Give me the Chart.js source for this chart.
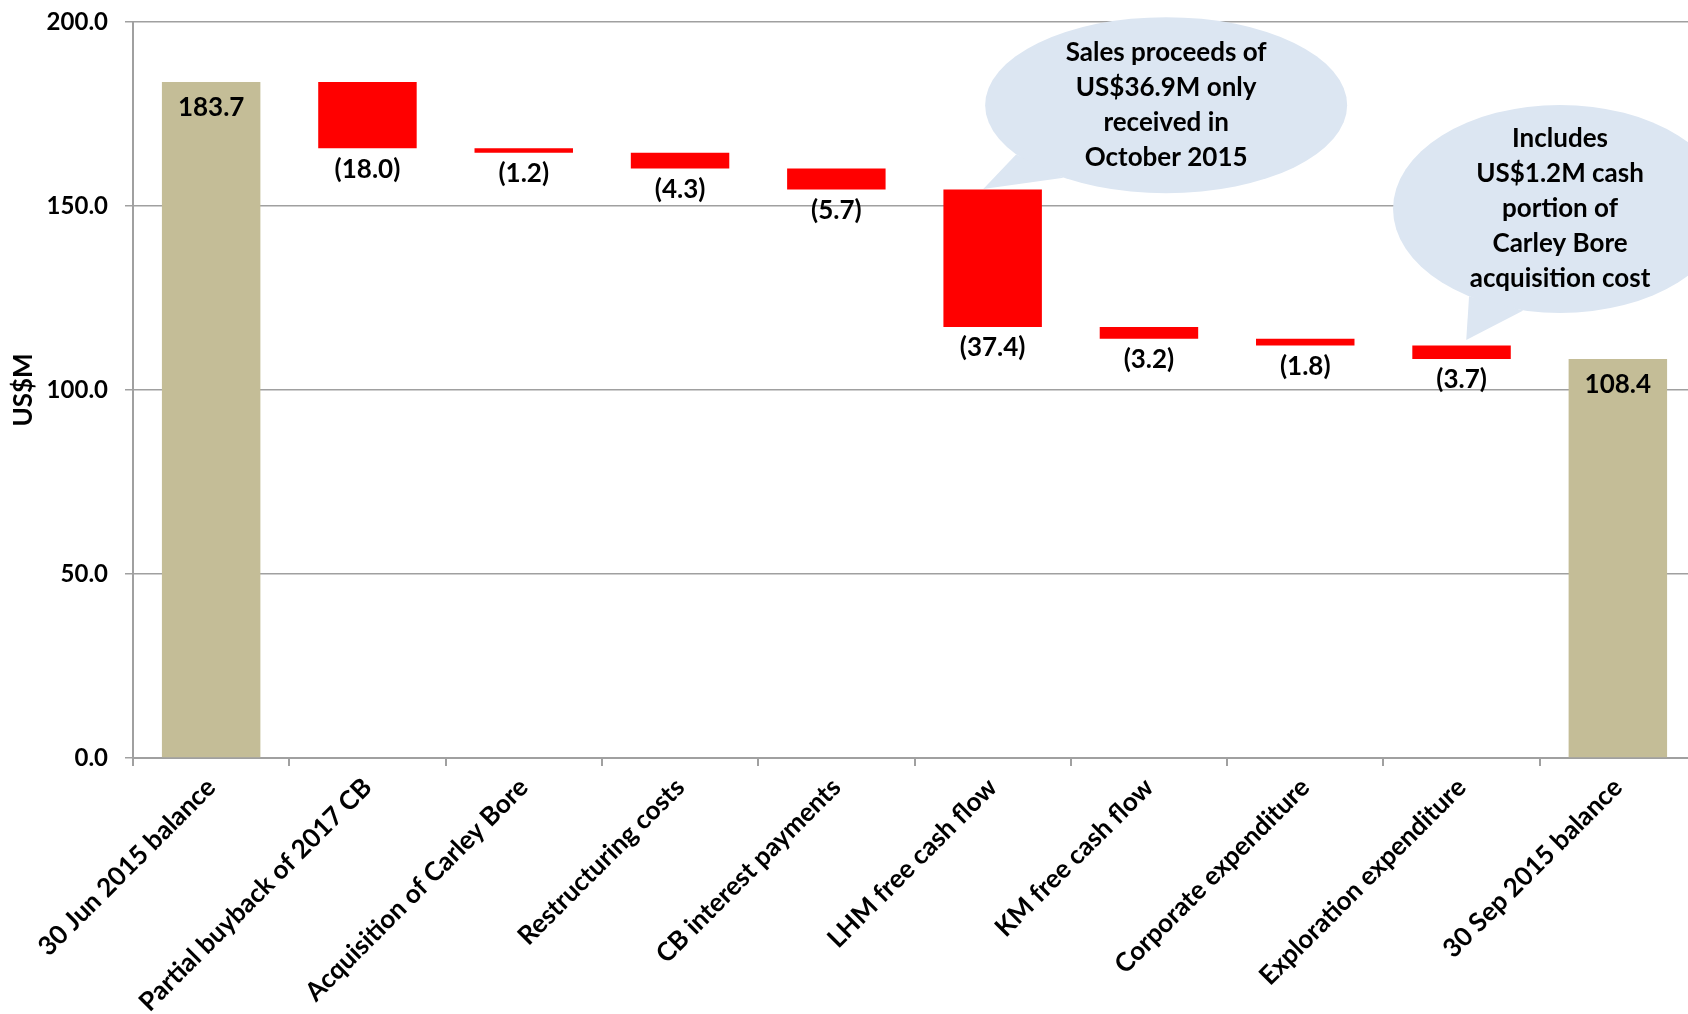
<!DOCTYPE html>
<html>
<head>
<meta charset="utf-8">
<script src="https://cdn.jsdelivr.net/npm/chart.js@4.4.0/dist/chart.umd.min.js"></script>
<style>
  html, body { margin: 0; padding: 0; background: #fff; overflow: hidden; }
  #wrap { width: 1696px; height: 1014px; }
</style>
</head>
<body>
<div id="wrap"><canvas id="cashChart"></canvas></div>
<script>
const categories = ['30 Jun 2015 balance', 'Partial buyback of 2017 CB', 'Acquisition of Carley Bore',
  'Restructuring costs', 'CB interest payments', 'LHM free cash flow', 'KM free cash flow',
  'Corporate expenditure', 'Exploration expenditure', '30 Sep 2015 balance'];
const movements = [183.7, -18.0, -1.2, -4.3, -5.7, -37.4, -3.2, -1.8, -3.7, 108.4];
const isTotal = [true, false, false, false, false, false, false, false, false, true];
const yTicks = [0, 50, 100, 150, 200];

const callouts = [
  { lines: ['Sales proceeds of', 'US$36.9M only', 'received in', 'October 2015'],
    at: [6.11, 177.4], rx: 181, ry: 88, tip: [4.94, 154.6], tail: [146, 124.5] },
  { lines: ['Includes', 'US$1.2M cash', 'portion of', 'Carley Bore', 'acquisition cost'],
    at: [8.63, 149.2], rx: 167, ry: 104, tip: [8.03, 113.6], tail: [123, 102.7] }
];

// floating bars for the waterfall
let running = 0;
const floating = movements.map((v, i) => {
  if (isTotal[i]) { running = v; return [0, v]; }
  const start = running;
  running = running + v;
  return [running, start];
});

const FONT = 'Lato, "Open Sans", sans-serif';
const FSIZE = 26;

const labelPlugin = {
  id: 'valueLabels',
  afterDatasetsDraw(chart) {
    const ctx = chart.ctx;
    const meta = chart.getDatasetMeta(0);
    const y = chart.scales.y;
    ctx.save();
    ctx.font = 'bold ' + FSIZE + 'px ' + FONT;
    ctx.fillStyle = '#000';
    ctx.textAlign = 'center';
    ctx.textBaseline = 'middle';
    meta.data.forEach((bar, i) => {
      const v = movements[i];
      if (isTotal[i]) {
        ctx.fillText(v.toFixed(1), bar.x, y.getPixelForValue(v) + 26);
      } else {
        const low = Math.min(floating[i][0], floating[i][1]);
        ctx.fillText('(' + Math.abs(v).toFixed(1) + ')', bar.x, y.getPixelForValue(low) + 21);
      }
    });
    ctx.restore();
  }
};

const calloutPlugin = {
  id: 'callouts',
  afterDraw(chart) {
    const ctx = chart.ctx;
    const xs = chart.scales.x, ys = chart.scales.y;
    ctx.save();
    callouts.forEach(c => {
      const cx = xs.getPixelForValue(c.at[0]);
      const cy = ys.getPixelForValue(c.at[1]);
      const tx = xs.getPixelForValue(c.tip[0]);
      const ty = ys.getPixelForValue(c.tip[1]);
      const a1 = c.tail[0] * Math.PI / 180, a2 = c.tail[1] * Math.PI / 180;
      ctx.fillStyle = '#DCE6F2';
      ctx.beginPath();
      ctx.ellipse(cx, cy, c.rx, c.ry, 0, 0, Math.PI * 2);
      ctx.fill();
      ctx.beginPath();
      ctx.moveTo(cx + c.rx * Math.cos(a1), cy + c.ry * Math.sin(a1));
      ctx.lineTo(tx, ty);
      ctx.lineTo(cx + c.rx * Math.cos(a2), cy + c.ry * Math.sin(a2));
      ctx.closePath();
      ctx.fill();
      ctx.fillStyle = '#000';
      ctx.font = 'bold ' + FSIZE + 'px ' + FONT;
      ctx.textAlign = 'center';
      ctx.textBaseline = 'middle';
      const step = 35;
      const top = cy - step * (c.lines.length - 1) / 2;
      c.lines.forEach((t, k) => ctx.fillText(t, cx, top + k * step));
    });
    ctx.restore();
  }
};

const ctxCash = document.getElementById('cashChart').getContext('2d');
const cashChart = new Chart(ctxCash, {
  type: 'bar',
  data: {
    labels: categories,
    datasets: [{
      data: floating,
      backgroundColor: isTotal.map(t => t ? '#C4BD97' : '#FF0000'),
      borderWidth: 0,
      barPercentage: 0.63,
      categoryPercentage: 1.0
    }]
  },
  options: {
    responsive: true,
    maintainAspectRatio: false,
    animation: false,
    layout: { padding: { top: 22, right: 0, bottom: 0, left: 0 } },
    plugins: {
      legend: { display: false },
      tooltip: { enabled: false }
    },
    scales: {
      x: {
        afterFit(scale) { scale.height = 256; scale.paddingLeft = 0; scale.paddingRight = 0; },
        grid: { drawOnChartArea: false, drawTicks: true, tickLength: 8, color: '#A0A0A0', lineWidth: 2 },
        border: { color: '#A0A0A0', width: 2 },
        ticks: {
          autoSkip: false, minRotation: 45, maxRotation: 45, padding: 6,
          color: '#000', font: { family: FONT, size: FSIZE, weight: 'bold' }
        }
      },
      y: {
        min: 0, max: 200,
        afterFit(scale) { scale.width = 133; scale.paddingTop = 0; scale.paddingBottom = 0; },
        afterBuildTicks(scale) { scale.ticks = yTicks.map(v => ({ value: v })); },
        grid: { color: '#A0A0A0', lineWidth: 1.5, tickLength: 8 },
        border: { color: '#A0A0A0', width: 2 },
        ticks: {
          padding: 17, color: '#000',
          font: { family: FONT, size: 24, weight: 'bold' },
          callback: v => Number(v).toFixed(1)
        },
        title: {
          display: true, text: 'US$M', color: '#000', padding: { top: 8, bottom: 0 },
          font: { family: FONT, size: FSIZE, weight: 'bold' }
        }
      }
    }
  },
  plugins: [labelPlugin, calloutPlugin]
});
</script>
</body>
</html>
